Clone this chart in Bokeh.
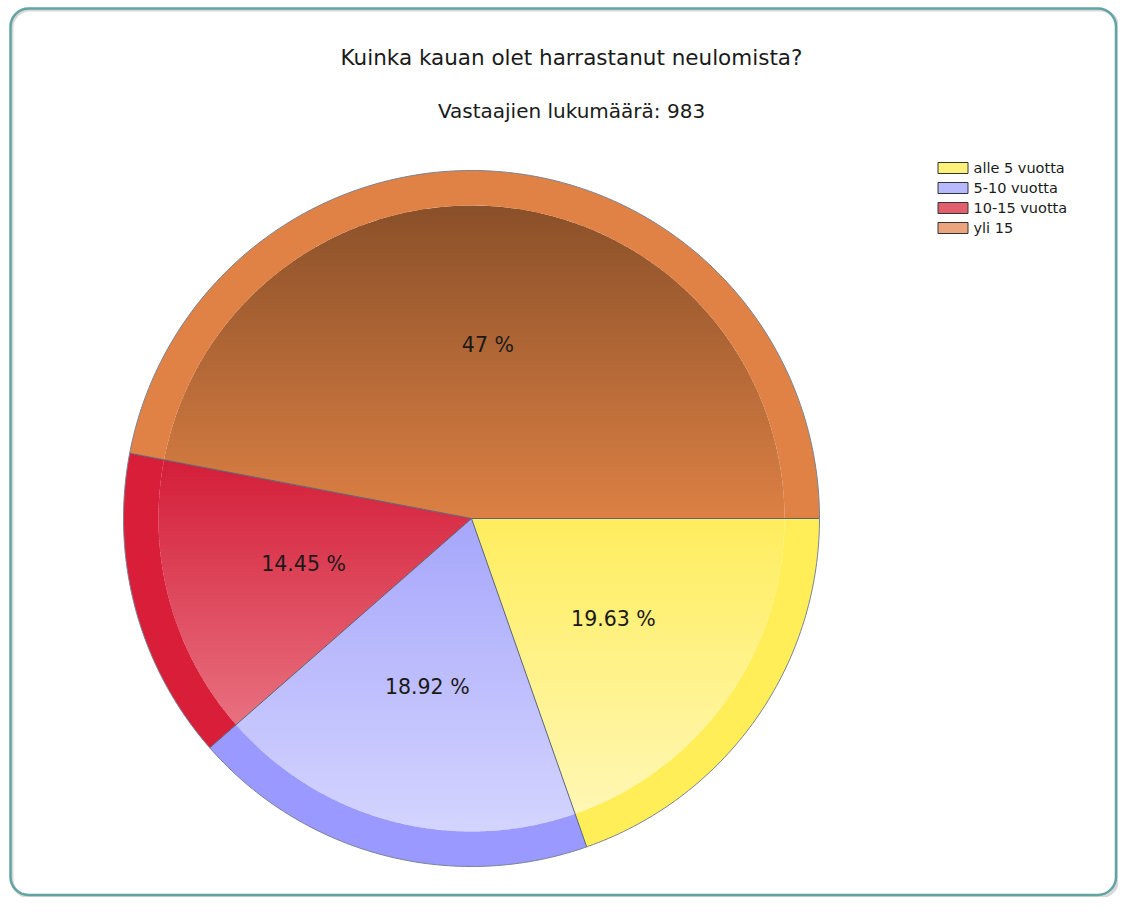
import numpy as np
from bokeh.plotting import figure
from bokeh.models import Range1d, BoxAnnotation
from bokeh.embed import file_html
from bokeh.resources import INLINE
from bokeh.core.properties import value

# ---------------- data ----------------
title_text = "Kuinka kauan olet harrastanut neulomista?"
subtitle_text = "Vastaajien lukumäärä: 983"
categories = ["alle 5 vuotta", "5-10 vuotta", "10-15 vuotta", "yli 15"]
percent = [19.63, 18.92, 14.45, 47.0]
labels = ["19.63 %", "18.92 %", "14.45 %", "47 %"]

# ---------------- styles ----------------
ring_colors = ["#FFEE58", "#9999FF", "#D91E3A", "#E08245"]
grad_top = ["#FFED5E", "#A6A6FC", "#D41E39", "#8A5029"]
grad_bottom = ["#FFF7B4", "#D4D4FF", "#E8717F", "#DC8044"]
legend_colors = ["#FFF27A", "#B8B8FF", "#E2606E", "#EBA57C"]
FONT = value("DejaVu Sans")

W, H = 1118, 897
CX, CY = 471, 518
R_OUT, R_IN = 348, 313

p = figure(width=W, height=H, x_range=Range1d(0, W), y_range=Range1d(H, 0),
           output_backend="svg", toolbar_location=None, min_border=0,
           x_axis_location=None, y_axis_location=None)
p.grid.visible = False
p.outline_line_color = None
p.background_fill_color = "white"
p.border_fill_color = "white"


def hex2rgb(h):
    h = h.lstrip("#")
    return np.array([int(h[i:i + 2], 16) for i in (0, 2, 4)], dtype=float)


def rgb2hex(c):
    c = np.clip(np.round(c), 0, 255).astype(int)
    return "#%02x%02x%02x" % tuple(c)


def sector(a0, a1, r, n=120):
    t = np.linspace(a0, a1, n)
    pts = [(CX, CY)] + [(CX + r * np.cos(a), CY + r * np.sin(a)) for a in t]
    return pts


def clip_y(pts, yb, keep_above):
    out = []
    n = len(pts)
    for i in range(n):
        cur = pts[i]
        prev = pts[i - 1]
        cin = cur[1] >= yb if keep_above else cur[1] <= yb
        pin = prev[1] >= yb if keep_above else prev[1] <= yb
        if cin:
            if not pin:
                t = (yb - prev[1]) / (cur[1] - prev[1])
                out.append((prev[0] + t * (cur[0] - prev[0]), yb))
            out.append(cur)
        elif pin:
            t = (yb - prev[1]) / (cur[1] - prev[1])
            out.append((prev[0] + t * (cur[0] - prev[0]), yb))
    return out


# angles (screen, y down => clockwise)
cum = np.concatenate([[0], np.cumsum(percent)])
cum = cum / cum[-1] * 2 * np.pi
starts, ends = cum[:-1], cum[1:]

# frame shadow
p.add_layout(BoxAnnotation(left=11.5, right=1117.5, top=9.5, bottom=896.5, border_radius=18,
                           fill_alpha=0, line_color="#d8d8d8", line_alpha=1.0, line_width=3))

# gradient inner slices
bx, by, bc = [], [], []
NB = 90
for i in range(len(percent)):
    poly = sector(starts[i], ends[i], R_IN)
    ys = [q[1] for q in poly]
    ymin, ymax = min(ys), max(ys)
    h = (ymax - ymin) / NB
    ct, cb = hex2rgb(grad_top[i]), hex2rgb(grad_bottom[i])
    for k in range(NB):
        y0 = ymin + k * h
        y1 = y0 + h + 0.9
        band = clip_y(clip_y(poly, y0, True), y1, False)
        if len(band) < 3:
            continue
        f = (k + 0.5) / NB
        bx.append([q[0] for q in band])
        by.append([q[1] for q in band])
        bc.append(rgb2hex(ct + (cb - ct) * f))
p.patches(xs=bx, ys=by, fill_color=bc, line_color=None)

# outer ring
rx, ry = [], []
for i in range(len(percent)):
    t = np.linspace(starts[i], ends[i], 150)
    xo = CX + R_OUT * np.cos(t)
    yo = CY + R_OUT * np.sin(t)
    xi = CX + R_IN * np.cos(t[::-1])
    yi = CY + R_IN * np.sin(t[::-1])
    rx.append(list(xo) + list(xi))
    ry.append(list(yo) + list(yi))
p.patches(xs=rx, ys=ry, fill_color=ring_colors, line_color=None)

# slice borders
bnd = cum[:-1]
p.segment(x0=[CX] * len(bnd), y0=[CY] * len(bnd),
          x1=list(CX + R_OUT * np.cos(bnd)), y1=list(CY + R_OUT * np.sin(bnd)),
          line_color="#5a6678", line_width=1)
tt = np.linspace(0, 2 * np.pi, 400)
p.line(x=list(CX + R_OUT * np.cos(tt)), y=list(CY + R_OUT * np.sin(tt)),
       line_color="#7a8494", line_width=1)

# slice labels
mid = (starts + ends) / 2
p.text(x=list(CX + R_OUT / 2 * np.cos(mid)), y=list(CY + R_OUT / 2 * np.sin(mid)),
       text=labels, text_font=FONT, text_font_size="20.5px", text_color="#1a1a1a",
       text_align="center", text_baseline="middle")

# titles
p.text(x=[571], y=[57], text=[title_text], text_font=FONT, text_font_size="21.5px",
       text_color="#1a1a1a", text_align="center", text_baseline="middle")
p.text(x=[571], y=[110], text=[subtitle_text], text_font=FONT, text_font_size="20px",
       text_color="#1a1a1a", text_align="center", text_baseline="middle")

# legend
ly = [167.5 + 20 * i for i in range(len(categories))]
p.rect(x=[952.5] * len(categories), y=ly, width=30, height=11,
       fill_color=legend_colors, line_color="#333333", line_width=1)
p.text(x=[973] * len(categories), y=ly, text=categories, text_font=FONT,
       text_font_size="14.5px", text_color="#1a1a1a", text_align="left",
       text_baseline="middle")

# frame
p.add_layout(BoxAnnotation(left=10, right=1115.5, top=8, bottom=894.5, border_radius=18,
                           fill_alpha=0, line_color="#62A3A3", line_alpha=1.0, line_width=2.5))

open("out.html", "w").write(file_html(p, INLINE))
